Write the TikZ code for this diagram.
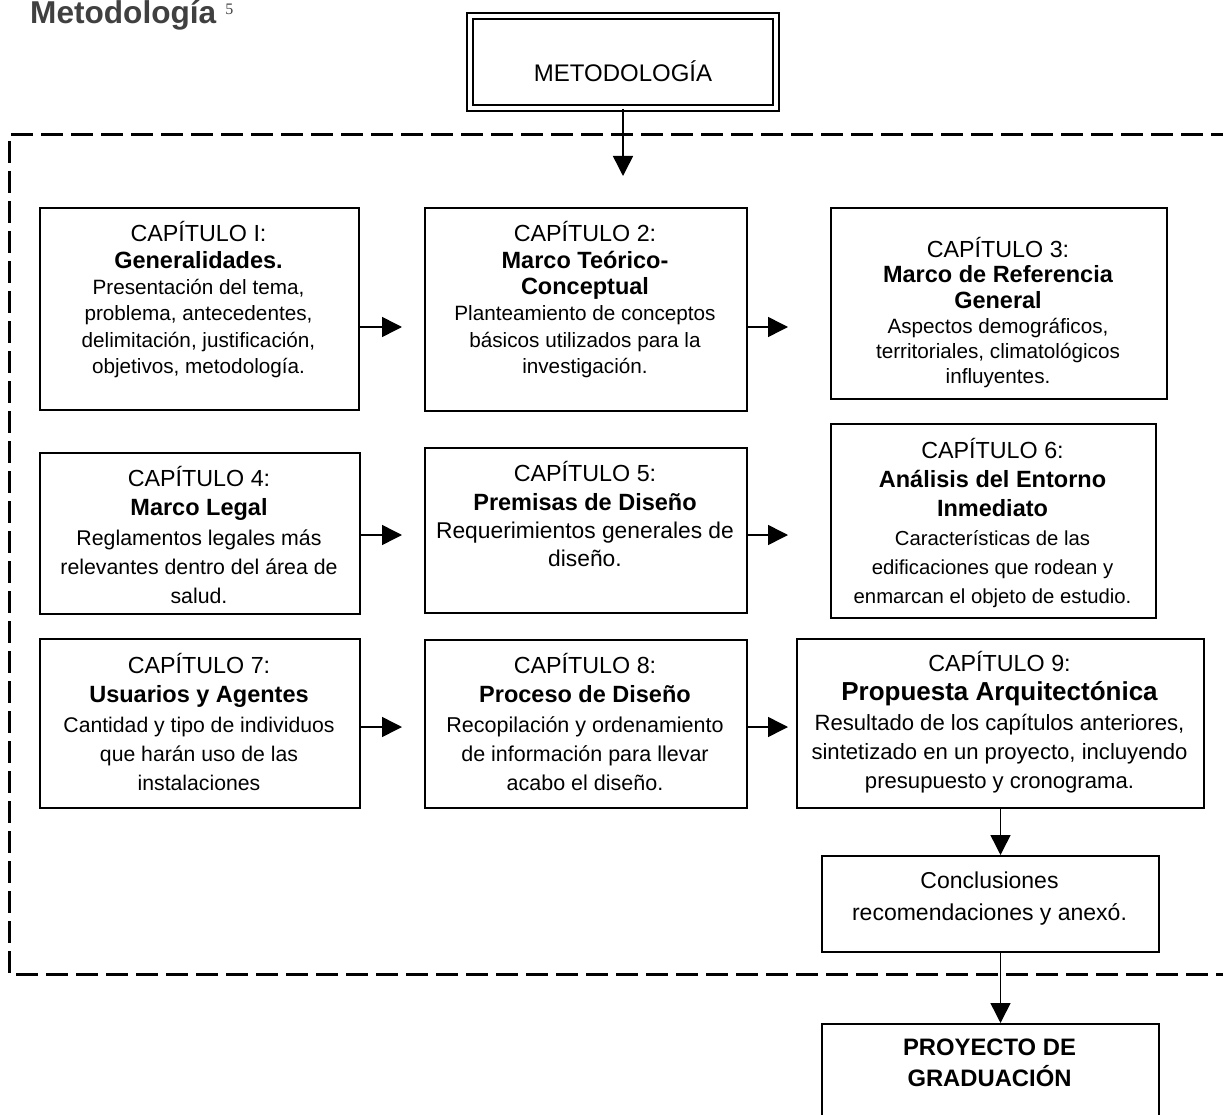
\documentclass[tikz,border=0pt]{standalone}
\usepackage{fontspec}
\setmainfont{Liberation Sans}
\newfontfamily\notefont{Liberation Serif}
\usetikzlibrary{arrows.meta}
% line helpers for the chapter boxes
\newcommand\capl[1]{{\fontsize{23.3}{23.3}\selectfont #1}}
\newcommand\tit[2][23.5]{{\fontsize{#1}{#1}\selectfont\bfseries #2}}
\newcommand\tall{\rule{0pt}{24pt}}
\begin{document}
\begin{tikzpicture}[x=1pt,y=-1pt,
  frame/.style={draw, line width=2pt, inner sep=0pt, anchor=north west},
  tx/.style={inner sep=0pt, align=center, anchor=north},
  arr/.style={line width=1.5pt, -{Triangle[length=20pt,width=20pt]}},
  fence/.style={line width=3pt, dash pattern=on 22pt off 8pt}]
\useasboundingbox (0,0) rectangle (1223,1115);
\clip (0,0) rectangle (1223,1115);

% heading of the page
\node[anchor=base west, inner sep=0pt, text=black!75,
      font=\fontsize{31.6}{31.6}\selectfont\bfseries] (title) at (30,24)
  {Metodología\hspace{9pt}\raisebox{9pt}{\fontsize{16}{16}\selectfont\mdseries\notefont 5}};

% dashed enclosure of the chapters
\draw[fence] (11,135) -- (1240,135);
\draw[fence] (9,141) -- (9,974) -- (1240,974);

% top box
\node[draw, double, double distance=3.5pt, line width=2pt, inner sep=0pt,
      minimum width=306pt, minimum height=92pt] (met) at (623,62) {};
\node[tx, font=\fontsize{24}{24}\selectfont] (mett) at (623,57.6) {\tall METODOLOGÍA};
\coordinate (metend) at (623,176);
\draw[arr] (met.south) -- (metend);

% row 1
\node[frame, minimum width=319pt, minimum height=202pt] (b1) at (39,207) {};
\node[tx, font=\fontsize{20.7}{26.4}\selectfont] (b1t) at (198.5,217.5)
  {\tall\capl{CAPÍTULO I:}\\ \tit{Generalidades.}\\ Presentación del tema,\\
   problema, antecedentes,\\ delimitación, justificación,\\ objetivos, metodología.};
\node[frame, minimum width=322pt, minimum height=203pt] (b2) at (424,207) {};
\node[tx, font=\fontsize{20.7}{26.4}\selectfont] (b2t) at (585,217.5)
  {\tall\capl{CAPÍTULO 2:}\\ \tit{Marco Teórico-}\\ \tit{Conceptual}\\
   Planteamiento de conceptos\\ básicos utilizados para la\\ investigación.};
\node[frame, minimum width=336pt, minimum height=191pt] (b3) at (830,207) {};
\node[tx, font=\fontsize{20.7}{25.2}\selectfont] (b3t) at (998,233.5)
  {\tall\capl{CAPÍTULO 3:}\\ \tit{Marco de Referencia}\\ \tit{General}\\
   Aspectos demográficos,\\ territoriales, climatológicos\\ influyentes.};

% row 2
\node[frame, minimum width=320pt, minimum height=161pt] (b4) at (39,452) {};
\node[tx, font=\fontsize{21.3}{29.25}\selectfont] (b4t) at (199,462.5)
  {\tall\capl{CAPÍTULO 4:}\\ \tit{Marco Legal}\\ Reglamentos legales más\\
   relevantes dentro del área de\\ salud.};
\node[frame, minimum width=322pt, minimum height=165pt] (b5) at (424,447) {};
\node[tx, font=\fontsize{22.8}{28.3}\selectfont] (b5t) at (585,457.5)
  {\tall\capl{CAPÍTULO 5:}\\ \tit{Premisas de Diseño}\\ Requerimientos generales de\\ diseño.};
\node[frame, minimum width=325pt, minimum height=194pt] (b6) at (830,423) {};
\node[tx, font=\fontsize{20.3}{29}\selectfont] (b6t) at (992.5,434.5)
  {\tall\capl{CAPÍTULO 6:}\\ \tit{Análisis del Entorno}\\ \tit{Inmediato}\\
   Características de las\\ edificaciones que rodean y\\ enmarcan el objeto de estudio.};

% row 3
\node[frame, minimum width=320pt, minimum height=169pt] (b7) at (39,638) {};
\node[tx, font=\fontsize{21.2}{29.25}\selectfont] (b7t) at (199,649.5)
  {\tall\capl{CAPÍTULO 7:}\\ \tit{Usuarios y Agentes}\\ Cantidad y tipo de individuos\\
   que harán uso de las\\ instalaciones};
\node[frame, minimum width=322pt, minimum height=168pt] (b8) at (424,639) {};
\node[tx, font=\fontsize{21.5}{29.25}\selectfont] (b8t) at (585,649.5)
  {\tall\capl{CAPÍTULO 8:}\\ \tit{Proceso de Diseño}\\ Recopilación y ordenamiento\\
   de información para llevar\\ acabo el diseño.};
\node[frame, minimum width=407pt, minimum height=169pt] (b9) at (796,638) {};
\node[tx, font=\fontsize{22.1}{29.25}\selectfont] (b9t) at (999.5,647.5)
  {\tall\capl{CAPÍTULO 9:}\\ \tit[26]{Propuesta Arquitectónica}\\ Resultado de los capítulos anteriores,\\
   sintetizado en un proyecto, incluyendo\\ presupuesto y cronograma.};

% closing boxes
\node[frame, minimum width=337pt, minimum height=96pt] (concl) at (821,855) {};
\node[tx, font=\fontsize{23}{32}\selectfont] (conclt) at (989.5,864.3)
  {\tall Conclusiones\\ recomendaciones y anexó.};
\node[frame, minimum width=337pt, minimum height=130pt] (proy) at (821,1023) {};
\node[tx, font=\fontsize{23.8}{31}\selectfont\bfseries] (proyt) at (989.5,1031.5)
  {\tall PROYECTO DE\\ GRADUACIÓN};

% horizontal arrows between the chapters
\coordinate (r1a) at (402,327); \coordinate (r1b) at (788,327);
\coordinate (r2a) at (402,535); \coordinate (r2b) at (788,535);
\coordinate (r3a) at (402,727); \coordinate (r3b) at (788,727);
\draw[arr] (b1.east |- r1a) -- (r1a);
\draw[arr] (b2.east |- r1b) -- (r1b);
\draw[arr] (b4.east |- r2a) -- (r2a);
\draw[arr] (b5.east |- r2b) -- (r2b);
\draw[arr] (b7.east |- r3a) -- (r3a);
\draw[arr] (b8.east |- r3b) -- (r3b);

% vertical arrows to the closing boxes
\draw[arr] (b9.south) -- (b9.south |- concl.north);
\draw[arr] (b9.south |- concl.south) -- (b9.south |- proy.north);
\end{tikzpicture}
\end{document}
